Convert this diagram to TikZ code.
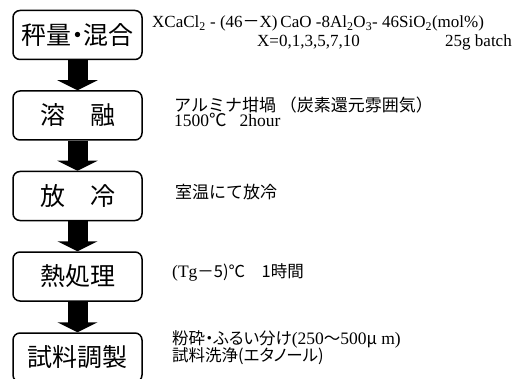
\documentclass[tikz,border=0pt]{standalone}
\usepackage{fontspec}
\setmainfont{Liberation Serif}
\newfontfamily\jp{Noto Sans CJK JP}
\newfontfamily\jpp[RawFeature=+palt]{Noto Sans CJK JP}
\usetikzlibrary{arrows.meta}
\begin{document}
\begin{tikzpicture}[x=1pt,y=-1pt,
  stepbox/.style={draw, line width=1.5pt, rounded corners=7pt, minimum width=129pt, minimum height=49pt, inner sep=0pt, font=\jp\fontsize{25}{25}\selectfont},
  flow/.style={line width=20pt, -{Triangle[width=40pt,length=10pt]}},
  note/.style={anchor=base west, inner sep=0pt, font=\fontsize{17.5}{17.5}\selectfont},
  fnote/.style={anchor=base west, inner sep=0pt, font=\fontsize{17}{17}\selectfont},
  jnote/.style={anchor=base west, inner sep=0pt, font=\jp\fontsize{17}{17}\selectfont},
]
\useasboundingbox (0,0) rectangle (521,379);
\clip (0,0) rectangle (521,379);
\node[stepbox] (s1) at (77.5,35) {秤量{\jpp ・}混合};
\node[stepbox] (s2) at (77.5,115.5) {溶　融};
\node[stepbox] (s3) at (77.5,196) {放　冷};
\node[stepbox] (s4) at (77.5,276.5) {熱処理};
\node[stepbox] (s5) at (77.5,357.5) {試料調製};
\draw[flow] (s1.south) -- (s2.north);
\draw[flow] (s2.south) -- (s3.north);
\draw[flow] (s3.south) -- (s4.north);
\draw[flow] (s4.south) -- (s5.north);
\node[fnote] (t1) at (152,28) {XCaCl\textsubscript{2} - (46{\jp －}X)\,CaO -8Al\textsubscript{2}O\textsubscript{3}- 46SiO\textsubscript{2}(mol\%)};
\node[fnote] (t2) at (257,47) {X=0,1,3,5,7,10};
\node[fnote] (t3) at (445,47) {25g batch};
\node[jnote] (t4) at (174,111.5) {アルミナ坩堝 （炭素還元雰囲気）};
\node[note] (t5) at (174,127) {1500{\jp ℃}\hspace{13pt}2hour};
\node[jnote] (t6) at (175,198) {室温にて放冷};
\node[note] (t7) at (172,277) {(Tg{\jp\fontsize{16.5}{16.5}\selectfont －5)℃　1時間}};
\node[note] (t8) at (172,344) {{\jpp\fontsize{16.5}{16.5}\selectfont 粉砕・ふるい分け}(250{\jp\fontsize{16.5}{16.5}\selectfont 〜}500{\jp\fontsize{16.5}{16.5}\selectfont μ} m)};
\node[jnote] (t9) at (172,361) {\jpp\fontsize{16.5}{16.5}\selectfont 試料洗浄(エタノール)};
\end{tikzpicture}
\end{document}
